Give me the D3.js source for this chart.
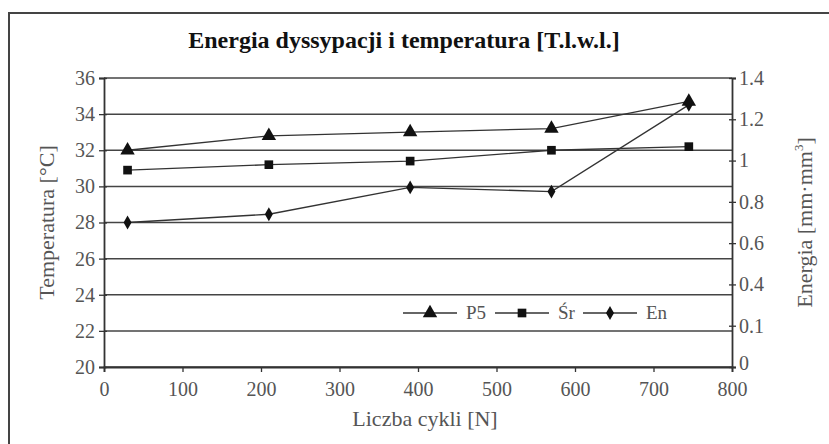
<!DOCTYPE html>
<html lang="pl">
<head>
  <meta charset="UTF-8">
  <title>Energia dyssypacji i temperatura</title>
  <script src="https://d3js.org/d3.v7.min.js"></script>
  <style>
    body { margin: 0; background: #fff; }
    svg text { font-family: "Liberation Serif", "DejaVu Serif", serif; fill: #555; }
    .title { fill: #111; font-weight: bold; font-size: 24px; }
    .axis-title { font-size: 22px; }
    .legend text { font-size: 19px; }
  </style>
</head>
<body>
  <svg width="829" height="444"></svg>

  <script>
    // values
    const cycles = [30, 210, 390, 570, 745];
    const p5 = [32.0, 32.8, 33.0, 33.2, 34.7];
    const sr = [30.9, 31.2, 31.4, 32.0, 32.2];
    const en = [0.70, 0.74, 0.87, 0.85, 1.27];

    const xTicks = [0, 100, 200, 300, 400, 500, 600, 700, 800];
    const tempTicks = [20, 22, 24, 26, 28, 30, 32, 34, 36];
    const energyTicks = [0, 0.2, 0.4, 0.6, 0.8, 1, 1.2, 1.4];
    const energyLabels = ["0", "0.1", "0.4", "0.6", "0.8", "1", "1.2", "1.4"];

    const series = [
      { name: "P5", values: p5, axis: "temp", symbol: d3.symbolTriangle, size: 90 },
      { name: "Śr", values: sr, axis: "temp", symbol: d3.symbolSquare, size: 75 },
      { name: "En", values: en, axis: "energy", symbol: d3.symbolDiamond, size: 55 }
    ];

    const svg = d3.select("svg");
    const plotL = 104, plotR = 732, plotT = 78, plotB = 367;
    const ink = "#333";
    const serif = "'Liberation Serif', 'DejaVu Serif', serif";

    const x = d3.scaleLinear().domain([0, 800]).range([plotL, plotR]);
    const yT = d3.scaleLinear().domain([20, 36]).range([plotB, plotT]);
    const yE = d3.scaleLinear().domain([0, 1.4]).range([plotB, plotT]);

    // outer frame (left and top edges visible)
    svg.append("rect")
      .attr("x", 9).attr("y", 13)
      .attr("width", 900).attr("height", 500)
      .attr("fill", "none").attr("stroke", "#444").attr("stroke-width", 2);

    svg.append("text").attr("class", "title")
      .attr("x", 404).attr("y", 48)
      .attr("text-anchor", "middle")
      .text("Energia dyssypacji i temperatura [T.l.w.l.]");

    // horizontal gridlines at the temperature ticks
    svg.append("g").selectAll("line")
      .data(tempTicks)
      .join("line")
      .attr("x1", plotL).attr("x2", plotR)
      .attr("y1", d => yT(d)).attr("y2", d => yT(d))
      .attr("stroke", "#444").attr("stroke-width", 1.5);

    // left axis
    const gL = svg.append("g").attr("transform", `translate(${plotL},0)`)
      .call(d3.axisLeft(yT).tickValues(tempTicks).tickSize(5).tickPadding(4));
    // right axis
    const gR = svg.append("g").attr("transform", `translate(${plotR},0)`)
      .call(d3.axisRight(yE).tickValues(energyTicks).tickSize(4).tickPadding(3)
        .tickFormat((d, i) => energyLabels[i]));
    // bottom axis
    const gB = svg.append("g").attr("transform", `translate(0,${plotB})`)
      .call(d3.axisBottom(x).tickValues(xTicks).tickSize(5).tickPadding(9));

    [gL, gR, gB].forEach(g => {
      g.attr("font-family", serif).attr("font-size", 20);
      g.select(".domain").attr("stroke", ink).attr("stroke-width", 1.8);
      g.selectAll(".tick line").attr("stroke", ink).attr("stroke-width", 1.3);
      g.selectAll(".tick text").attr("fill", "#555");
    });
    gL.selectAll(".tick line").attr("x2", -5).attr("x1", 3);
    gR.selectAll(".tick line").attr("x1", -3).attr("x2", 4);
    gB.selectAll(".tick text").attr("dy", "0.75em");
    // the right "0" sits just above the "800" label
    gR.selectAll(".tick text").filter(d => d === 0).attr("dy", "0.1em");

    // axis titles
    svg.append("text").attr("class", "axis-title")
      .attr("transform", `translate(54,${(plotT + plotB) / 2}) rotate(-90)`)
      .attr("text-anchor", "middle")
      .text("Temperatura [°C]");

    const eTitle = svg.append("text").attr("class", "axis-title")
      .attr("transform", `translate(812,${(plotT + plotB) / 2}) rotate(-90)`)
      .attr("text-anchor", "middle");
    eTitle.append("tspan").text("Energia [mm·mm");
    eTitle.append("tspan").attr("dy", -9).style("font-size", "13px").text("3");
    eTitle.append("tspan").attr("dy", 9).text("]");

    svg.append("text").attr("class", "axis-title")
      .attr("x", 425).attr("y", 426)
      .attr("text-anchor", "middle")
      .text("Liczba cykli [N]");

    // legend box (hides gridlines behind it)
    const legend = svg.append("g").attr("class", "legend");
    legend.append("rect")
      .attr("x", 395).attr("y", 297).attr("width", 273).attr("height", 32)
      .attr("fill", "#fff");
    const legendX = [403, 495, 583];
    series.forEach((s, i) => {
      const lx = legendX[i], ly = 313;
      legend.append("line")
        .attr("x1", lx).attr("x2", lx + 54)
        .attr("y1", ly).attr("y2", ly)
        .attr("stroke", ink).attr("stroke-width", 1.3);
      legend.append("path")
        .attr("d", d3.symbol(s.symbol, s.size)())
        .attr("transform", `translate(${lx + 27},${ly})`)
        .attr("fill", "#111");
      legend.append("text")
        .attr("x", lx + 63).attr("y", ly + 6)
        .text(s.name);
    });

    // series lines and markers
    series.forEach(s => {
      const yS = s.axis === "temp" ? yT : yE;
      const pts = cycles.map((c, i) => [x(c), yS(s.values[i])]);
      svg.append("path")
        .attr("d", d3.line()(pts))
        .attr("fill", "none").attr("stroke", ink).attr("stroke-width", 1.3);
      svg.append("g").selectAll("path")
        .data(pts)
        .join("path")
        .attr("d", d3.symbol(s.symbol, s.size)())
        .attr("transform", d => `translate(${d[0]},${d[1]})`)
        .attr("fill", "#111");
    });
  </script>
</body>
</html>
